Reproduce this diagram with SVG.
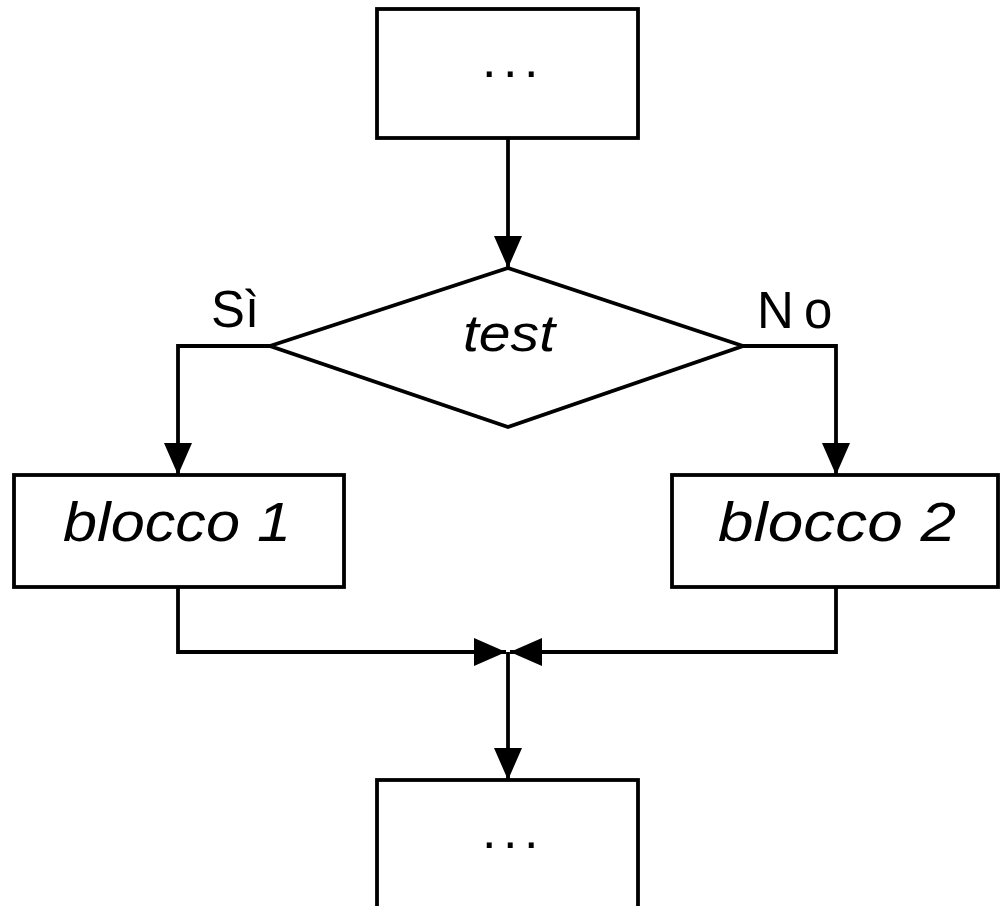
<svg xmlns="http://www.w3.org/2000/svg" width="1000" height="906" viewBox="0 0 1000 906">
  <defs>
    <marker id="arrow" markerUnits="userSpaceOnUse" markerWidth="34" markerHeight="30" refX="32" refY="14" orient="auto">
      <path d="M0,0 L32,14 L0,28 Z" fill="#000"/>
    </marker>
  </defs>
  <style>
    .box { fill: #fff; stroke: #000; stroke-width: 3.8; stroke-linejoin: miter; }
    .wire { fill: none; stroke: #000; stroke-width: 3.8; stroke-linejoin: miter; }
    .lbl { font-family: "Liberation Sans", Arial, sans-serif; fill: #000; }
    .it { font-style: italic; }
    .dots { font-size: 52px; letter-spacing: 6.5px; }
  </style>
  <rect width="1000" height="906" fill="#fff"/>

  <g id="connectors">
    <path class="wire" d="M508,139 L508,268" marker-end="url(#arrow)"/>
    <path class="wire" d="M270,346 L178,346 L178,475" marker-end="url(#arrow)"/>
    <path class="wire" d="M743,346 L836,346 L836,475" marker-end="url(#arrow)"/>
    <path class="wire" d="M178,587 L178,652 L506,652" marker-end="url(#arrow)"/>
    <path class="wire" d="M836,587 L836,652 L510,652" marker-end="url(#arrow)"/>
    <path class="wire" d="M508,652 L508,780" marker-end="url(#arrow)"/>
  </g>

  <g id="start">
    <rect class="box" x="377" y="9" width="261" height="129"/>
    <text class="lbl dots" x="482" y="77">...</text>
  </g>

  <g id="test">
    <polygon class="box" points="508,268 743,346 508,427 270,346"/>
    <text class="lbl it" x="463" y="351" font-size="52" textLength="92" lengthAdjust="spacingAndGlyphs">test</text>
  </g>

  <g id="label-si">
    <text class="lbl" x="211" y="327" font-size="51" textLength="48" lengthAdjust="spacingAndGlyphs">Sì</text>
  </g>
  <g id="label-no">
    <text class="lbl" x="757" y="328" font-size="51">N<tspan x="804">o</tspan></text>
  </g>

  <g id="blocco1">
    <rect class="box" x="14" y="475" width="330" height="112"/>
    <text class="lbl it" x="63" y="541" font-size="56" textLength="228" lengthAdjust="spacingAndGlyphs">blocco 1</text>
  </g>

  <g id="blocco2">
    <rect class="box" x="672" y="475" width="326" height="112"/>
    <text class="lbl it" x="718" y="541" font-size="56" textLength="238" lengthAdjust="spacingAndGlyphs">blocco 2</text>
  </g>

  <g id="end">
    <rect class="box" x="377" y="780" width="261" height="140"/>
    <text class="lbl dots" x="482" y="848">...</text>
  </g>
</svg>
